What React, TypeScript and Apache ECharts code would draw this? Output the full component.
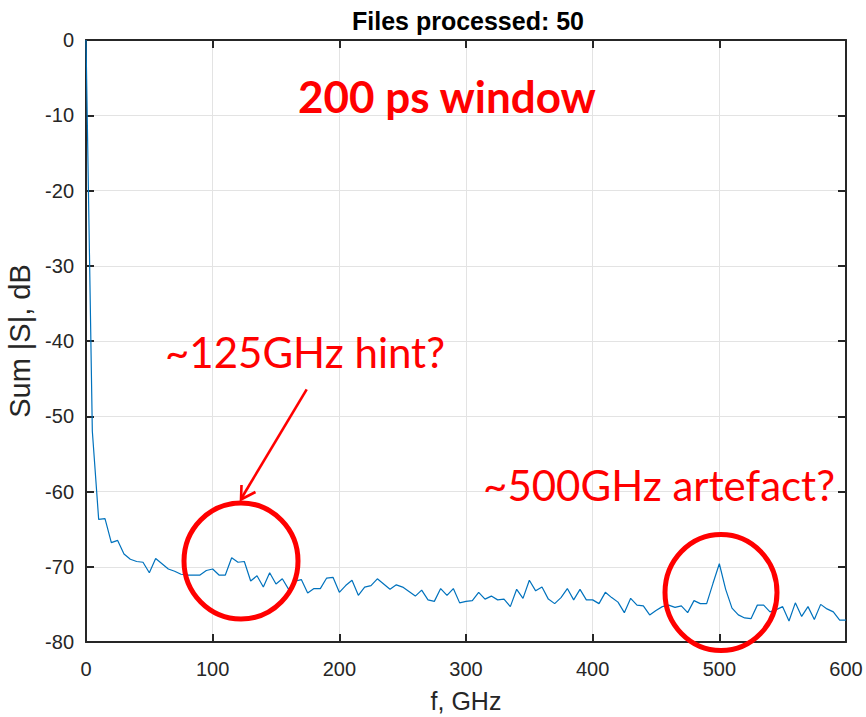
import React, { useEffect, useRef } from "react";
import * as echarts from "echarts";

// Summed spectrum magnitude (dB), sampled every 5 GHz from 0 to 600 GHz.
const sumSdB: number[] = [
  0, -52, -63.7, -63.6, -66.8, -66.5, -68.3, -69.0, -69.3, -69.4,
  -70.8, -68.9, -69.6, -70.3, -70.6, -71.0, -71.1, -71.1, -71.1, -70.5,
  -70.3, -71.1, -71.1, -68.8, -69.4, -69.3, -71.9, -71.2, -72.7, -70.8,
  -72.3, -71.6, -73.0, -71.9, -71.7, -73.5, -72.9, -72.9, -71.5, -71.4,
  -73.4, -72.5, -71.8, -73.8, -72.7, -72.5, -71.6, -72.3, -73.0, -72.4,
  -72.7, -73.3, -73.9, -73.1, -74.4, -74.6, -72.9, -73.8, -72.9, -74.8,
  -74.6, -74.5, -73.4, -74.3, -73.9, -74.4, -74.3, -75.3, -73.0, -74.2,
  -71.8, -73.2, -72.7, -74.3, -74.9, -74.1, -72.9, -74.4, -73.0, -74.4,
  -74.4, -74.9, -73.4, -74.1, -74.7, -76.1, -74.2, -75.1, -75.2, -76.4,
  -75.8, -75.3, -75.1, -75.4, -75.2, -76.1, -74.5, -74.9, -74.9, -72.2,
  -69.6, -73.0, -75.5, -76.4, -76.8, -76.9, -75.1, -75.1, -76.0, -75.7,
  -75.3, -77.2, -74.8, -76.6, -75.3, -77.0, -75.0, -75.6, -76.0, -77.1,
  -77.1,
];
const FREQ_STEP_GHZ = 5;
const freqGHz: number[] = sumSdB.map((_, i) => i * FREQ_STEP_GHZ);

const xTicks = { min: 0, max: 600, interval: 100 };
const yTicks = { min: -80, max: 0, interval: 10 };

const titleText = "Files processed: 50";
const xName = "f, GHz";
const yName = "Sum |S|, dB";
const noteWindow = "200 ps window";
const noteHint = "~125GHz hint?";
const noteArtefact = "~500GHz artefact?";

const AXIS_COLOR = "#262626";
const GRID_COLOR = "#e3e3e3";
const LINE_COLOR = "#0072BD";
const RED = "#ff0000";
const SANS = "'Liberation Sans', Arial, Helvetica, sans-serif";
const NOTE_FONT = "Lato, 'Open Sans', sans-serif";

export default function App() {
  const ref = useRef<HTMLDivElement>(null);

  useEffect(() => {
    if (!ref.current) return;
    const chart = echarts.init(ref.current, undefined, { renderer: "svg" });

    const axisCommon = {
      axisLine: { show: true, onZero: false, lineStyle: { color: AXIS_COLOR, width: 2 } },
      axisTick: { show: true, inside: true, length: 8, lineStyle: { color: AXIS_COLOR, width: 2 } },
    };

    chart.setOption({
      animation: false,
      backgroundColor: "#ffffff",
      title: {
        text: titleText,
        left: 463,
        textAlign: "center",
        top: 3,
        textStyle: { fontFamily: SANS, fontWeight: "bold", fontSize: 25, color: "#000000" },
      },
      grid: {
        left: 86,
        right: 20,
        top: 40,
        bottom: 75,
        containLabel: false,
        outerBoundsMode: "none",
      },
      xAxis: [
        {
          type: "value",
          ...xTicks,
          position: "bottom",
          ...axisCommon,
          name: xName,
          nameLocation: "middle",
          nameGap: 46,
          nameTextStyle: { fontFamily: SANS, fontSize: 25, color: AXIS_COLOR },
          axisLabel: { fontFamily: SANS, fontSize: 20, color: AXIS_COLOR, margin: 17 },
          splitLine: { show: true, lineStyle: { color: GRID_COLOR, width: 1 } },
        },
        {
          type: "value",
          ...xTicks,
          position: "top",
          ...axisCommon,
          axisLabel: { show: false },
          splitLine: { show: false },
        },
      ],
      yAxis: [
        {
          type: "value",
          ...yTicks,
          position: "left",
          ...axisCommon,
          name: yName,
          nameLocation: "middle",
          nameGap: 52,
          nameTextStyle: { fontFamily: SANS, fontSize: 29, color: AXIS_COLOR },
          axisLabel: { fontFamily: SANS, fontSize: 20, color: AXIS_COLOR, margin: 12 },
          splitLine: { show: true, lineStyle: { color: GRID_COLOR, width: 1 } },
        },
        {
          type: "value",
          ...yTicks,
          position: "right",
          ...axisCommon,
          axisLabel: { show: false },
          splitLine: { show: false },
        },
      ],
      series: [
        {
          type: "line",
          xAxisIndex: 0,
          yAxisIndex: 0,
          data: freqGHz.map((f, i) => [f, sumSdB[i]]),
          showSymbol: false,
          symbol: "none",
          lineStyle: { color: LINE_COLOR, width: 1.2 },
          z: 3,
        },
      ],
      graphic: [
        {
          type: "text",
          z: 10,
          style: {
            text: noteWindow,
            x: 447,
            y: 96,
            fill: RED,
            font: `bold 44px ${NOTE_FONT}`,
            align: "center",
            verticalAlign: "middle",
            textAlign: "center",
            textVerticalAlign: "middle",
          },
        },
        {
          type: "text",
          z: 10,
          style: {
            text: noteHint,
            x: 305,
            y: 352,
            fill: RED,
            font: `42px ${NOTE_FONT}`,
            align: "center",
            verticalAlign: "middle",
            textAlign: "center",
            textVerticalAlign: "middle",
          },
        },
        {
          type: "text",
          z: 10,
          style: {
            text: noteArtefact,
            x: 659,
            y: 485,
            fill: RED,
            font: `42px ${NOTE_FONT}`,
            align: "center",
            verticalAlign: "middle",
            textAlign: "center",
            textVerticalAlign: "middle",
          },
        },
        {
          type: "line",
          z: 10,
          shape: { x1: 306.7, y1: 389.3, x2: 241, y2: 499 },
          style: { stroke: RED, lineWidth: 2.6 },
        },
        {
          type: "polyline",
          z: 10,
          shape: { points: [[241.5, 485], [241, 499.5], [255.5, 492]] },
          style: { stroke: RED, lineWidth: 2.6, fill: "none" },
        },
        {
          type: "ellipse",
          z: 10,
          shape: { cx: 241, cy: 561, rx: 57, ry: 58 },
          style: { stroke: RED, lineWidth: 5, fill: "none" },
        },
        {
          type: "ellipse",
          z: 10,
          shape: { cx: 721, cy: 592.5, rx: 56, ry: 58 },
          style: { stroke: RED, lineWidth: 5, fill: "none" },
        },
      ],
    });

    return () => chart.dispose();
  }, []);

  return (
    <div
      ref={ref}
      style={{ position: "fixed", left: 0, top: 0, width: 866, height: 717 }}
    />
  );
}
